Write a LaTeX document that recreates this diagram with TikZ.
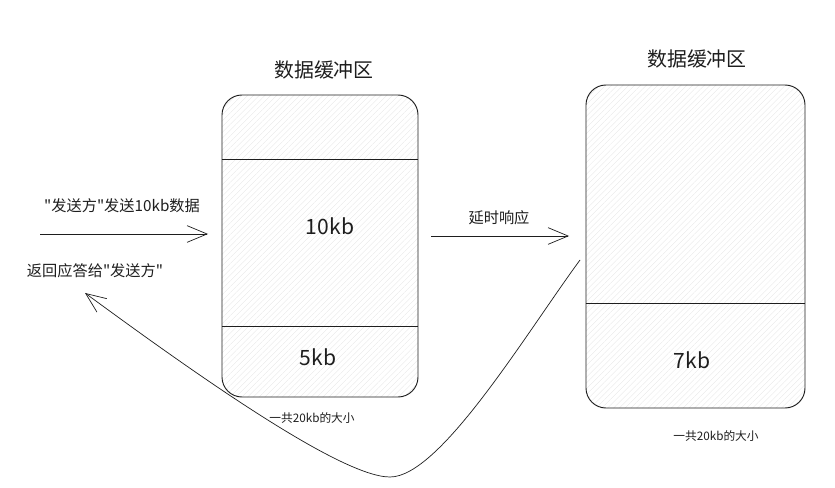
\documentclass[tikz,border=0pt]{standalone}
\usepackage{fontspec}
\newfontfamily\cjk{Noto Sans CJK SC}
\usepackage{tikz}
\usetikzlibrary{positioning,arrows.meta,calc,patterns.meta}
\definecolor{ink}{HTML}{1E1E1E}
\definecolor{hatch}{HTML}{E6E6E6}

\tikzset{
  buffer/.style={draw=ink, line width=0.8pt, rounded corners=0.6cm,
    pattern={Lines[angle=45,distance=3.5pt,line width=0.3pt]}, pattern color=hatch},
  divider/.style={ink, line width=0.7pt},
  flow/.style={ink, line width=0.6pt, -{Straight Barb[length=6mm,width=5mm,line width=0.6pt]}},
  bufname/.style={font=\cjk\fontsize{17}{20}\selectfont, text=ink},
  amount/.style={font=\cjk\fontsize{18}{22}\selectfont, text=ink},
  note/.style={font=\cjk\fontsize{13}{16}\selectfont, text=ink},
  total/.style={font=\cjk\fontsize{10}{12}\selectfont, text=ink},
}

\begin{document}
\begin{tikzpicture}[x=0.03cm, y=-0.03cm]
  \useasboundingbox (0,0) rectangle (835,488);

  % sender side buffer
  \node[buffer, minimum width=5.88cm, minimum height=9.06cm] (bufA) at (320,246) {};
  \draw[divider] ([yshift=-1.95cm]bufA.north west) -- ([yshift=-1.95cm]bufA.north east);
  \draw[divider] ([yshift=2.13cm]bufA.south west) -- ([yshift=2.13cm]bufA.south east);
  \node[bufname] (nameA) at (324,70) {数据缓冲区};
  \node[amount] (sizeA1) at (330,226) {10kb};
  \node[amount] (sizeA2) at (318,357) {5kb};
  \node[total] (totalA) at (312,418) {一共20kb的大小};

  % receiver side buffer
  \node[buffer, minimum width=6.57cm, minimum height=9.69cm] (bufB) at (695.5,246.5) {};
  \draw[divider] ([yshift=3.15cm]bufB.south west) -- ([yshift=3.15cm]bufB.south east);
  \node[bufname] (nameB) at (697,59) {数据缓冲区};
  \node[amount] (sizeB) at (692,360) {7kb};
  \node[total] (totalB) at (716,436) {一共20kb的大小};

  % send and delay arrows
  \coordinate (sendFrom) at (40,234);
  \coordinate (sendTo) at (208,234);
  \draw[flow] (sendFrom) -- (sendTo);
  \node[note] (sendLabel) at (122,206) {"发送方"发送10kb数据};
  \node[note] (replyLabel) at (95,271) {返回应答给"发送方"};

  \coordinate (delayFrom) at (431,236);
  \coordinate (delayTo) at (569,236);
  \draw[flow] (delayFrom) -- (delayTo);
  \node[note] (delayLabel) at (499,218) {延时响应};

  % reply goes back to the sender
  \coordinate (replyFrom) at (580,260);
  \coordinate (replyLow) at (390,477);
  \coordinate (replyTo) at (85,293);
  \draw[flow] (replyFrom) .. controls (525,335) and (440,477) .. (replyLow)
    .. controls (340,477) and (190,370) .. (replyTo);
\end{tikzpicture}
\end{document}
